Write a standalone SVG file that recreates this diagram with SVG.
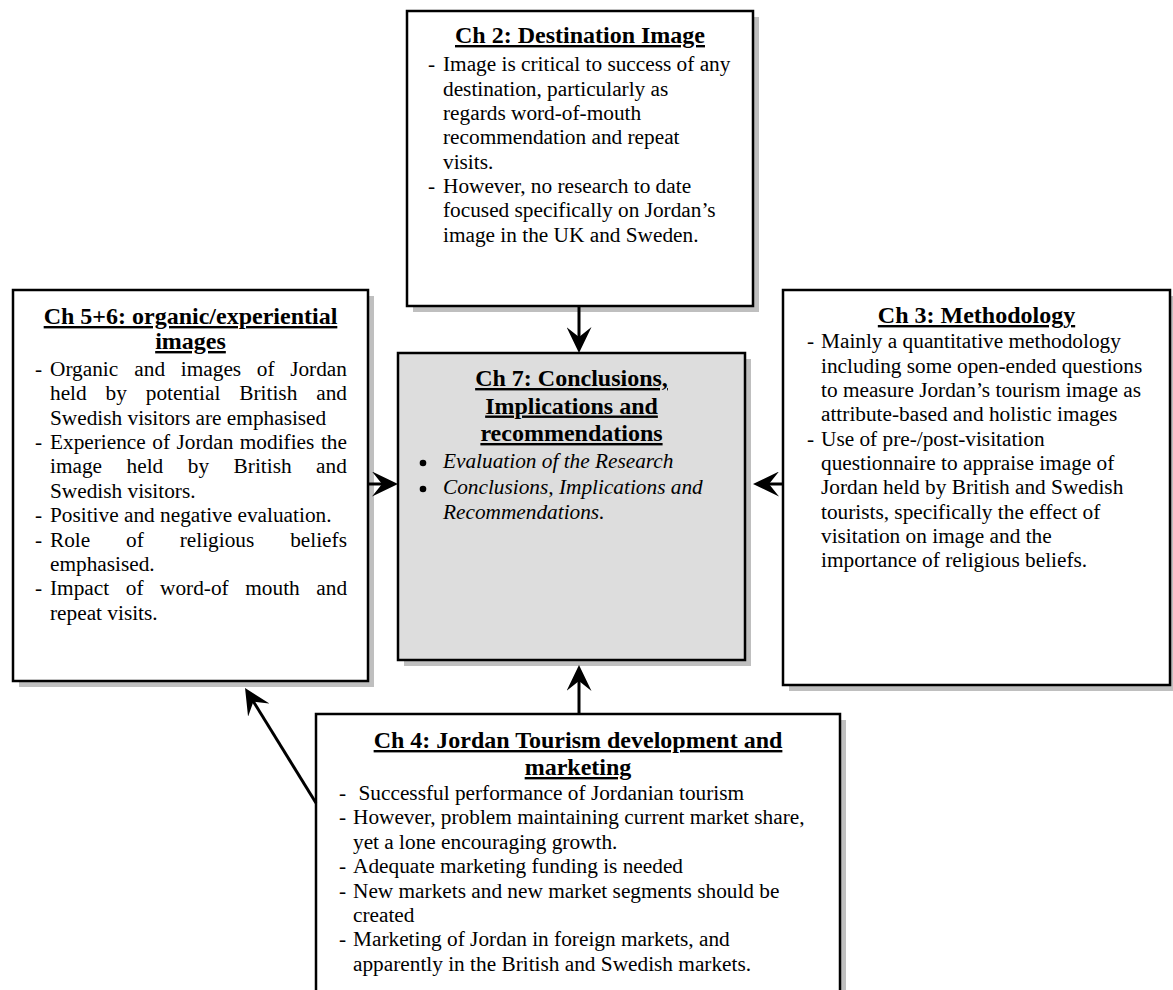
<svg xmlns="http://www.w3.org/2000/svg" width="1173" height="990" viewBox="0 0 1173 990">
  <style>
    text { font-family: "Liberation Serif", "Times New Roman", serif; fill: #000; }
    .h { font-size: 24px; font-weight: bold; text-anchor: middle; text-decoration: underline; }
    .b { font-size: 21.3px; }
    .i { font-size: 21.3px; font-style: italic; }
    .box { fill: #fff; stroke: #000; stroke-width: 2.5; }
    .core { fill: #dddddd; stroke: #000; stroke-width: 2.5; }
    .shadow { fill: #bfbfbf; }
    .link { stroke: #000; stroke-width: 3; fill: none; marker-end: url(#head); }
  </style>
  <defs>
    <marker id="head" viewBox="0 0 26 25" refX="16" refY="12.5" markerWidth="26" markerHeight="25" markerUnits="userSpaceOnUse" orient="auto">
      <path d="M26,12.5 L0,0 L10,12.5 L0,25 Z" fill="#000"/>
    </marker>
  </defs>
  <rect width="1173" height="990" fill="#fff"/>

  <!-- Ch 2: Destination Image -->
  <g id="node-ch2">
    <rect class="shadow" x="413" y="17" width="346" height="295"/>
    <rect class="box" x="407" y="11" width="346" height="295"/>
    <text class="h" x="580" y="43">Ch 2: Destination Image</text>
    <text class="b">
      <tspan x="428" y="71">-</tspan><tspan x="443" y="71">Image is critical to success of any</tspan>
      <tspan x="443" y="95.5">destination, particularly as</tspan>
      <tspan x="443" y="120">regards word-of-mouth</tspan>
      <tspan x="443" y="144">recommendation and repeat</tspan>
      <tspan x="443" y="168.5">visits.</tspan>
      <tspan x="428" y="193">-</tspan><tspan x="443" y="193">However, no research to date</tspan>
      <tspan x="443" y="217">focused specifically on Jordan’s</tspan>
      <tspan x="443" y="241.5">image in the UK and Sweden.</tspan>
    </text>
  </g>

  <!-- Ch 5+6: organic/experiential images -->
  <g id="node-ch56">
    <rect class="shadow" x="19" y="296" width="355" height="391"/>
    <rect class="box" x="13" y="290" width="355" height="391"/>
    <text class="h" x="190.5" y="324">Ch 5+6: organic/experiential</text>
    <text class="h" x="190.5" y="349">images</text>
    <text class="b">
      <tspan x="35" y="376">-</tspan><tspan x="50" y="376">Organic</tspan><tspan x="134.3" y="376">and</tspan><tspan x="180.8" y="376">images</tspan><tspan x="256.8" y="376">of</tspan><tspan x="290.2" y="376">Jordan</tspan>
      <tspan x="50" y="400.4">held</tspan><tspan x="105.6" y="400.4">by</tspan><tspan x="145.8" y="400.4">potential</tspan><tspan x="239.3" y="400.4">British</tspan><tspan x="316.2" y="400.4">and</tspan>
      <tspan x="50" y="424.7">Swedish visitors are emphasised</tspan>
      <tspan x="35" y="449.1">-</tspan><tspan x="50" y="449.1">Experience</tspan><tspan x="152.3" y="449.1">of</tspan><tspan x="176.5" y="449.1">Jordan</tspan><tspan x="239.8" y="449.1">modifies</tspan><tspan x="320.9" y="449.1">the</tspan>
      <tspan x="50" y="473.4">image</tspan><tspan x="126.6" y="473.4">held</tspan><tspan x="187.8" y="473.4">by</tspan><tspan x="233.6" y="473.4">British</tspan><tspan x="316.1" y="473.4">and</tspan>
      <tspan x="50" y="497.8">Swedish visitors.</tspan>
      <tspan x="35" y="522.1">-</tspan><tspan x="50" y="522.1">Positive and negative evaluation.</tspan>
      <tspan x="35" y="546.5">-</tspan><tspan x="50" y="546.5">Role</tspan><tspan x="126.1" y="546.5">of</tspan><tspan x="179.7" y="546.5">religious</tspan><tspan x="290.2" y="546.5">beliefs</tspan>
      <tspan x="50" y="570.8">emphasised.</tspan>
      <tspan x="35" y="595.2">-</tspan><tspan x="50" y="595.2">Impact</tspan><tspan x="125.8" y="595.2">of</tspan><tspan x="160.1" y="595.2">word-of</tspan><tspan x="245.3" y="595.2">mouth</tspan><tspan x="316.3" y="595.2">and</tspan>
      <tspan x="50" y="619.5">repeat visits.</tspan>
    </text>
  </g>

  <!-- Ch 7: Conclusions, Implications and recommendations -->
  <g id="node-ch7">
    <rect class="shadow" x="404" y="359" width="347" height="307"/>
    <rect class="core" x="398" y="353" width="347" height="307"/>
    <text class="h" x="571.5" y="386">Ch 7: Conclusions,</text>
    <text class="h" x="571.5" y="413.5">Implications and</text>
    <text class="h" x="571.5" y="441">recommendations</text>
    <circle cx="423" cy="463" r="3.3" fill="#000"/>
    <circle cx="423" cy="489" r="3.3" fill="#000"/>
    <text class="i">
      <tspan x="443" y="468">Evaluation of the Research</tspan>
      <tspan x="443" y="494">Conclusions, Implications and</tspan>
      <tspan x="443" y="519">Recommendations.</tspan>
    </text>
  </g>

  <!-- Ch 3: Methodology -->
  <g id="node-ch3">
    <rect class="shadow" x="789" y="296" width="387" height="395"/>
    <rect class="box" x="783" y="290" width="387" height="395"/>
    <text class="h" x="976.5" y="323">Ch 3: Methodology</text>
    <text class="b">
      <tspan x="807" y="348">-</tspan><tspan x="821" y="348">Mainly a quantitative methodology</tspan>
      <tspan x="821" y="372.5">including some open-ended questions</tspan>
      <tspan x="821" y="397">to measure Jordan’s tourism image as</tspan>
      <tspan x="821" y="421">attribute-based and holistic images</tspan>
      <tspan x="807" y="445.5">-</tspan><tspan x="821" y="445.5">Use of pre-/post-visitation</tspan>
      <tspan x="821" y="470">questionnaire to appraise image of</tspan>
      <tspan x="821" y="494">Jordan held by British and Swedish</tspan>
      <tspan x="821" y="518.5">tourists, specifically the effect of</tspan>
      <tspan x="821" y="543">visitation on image and the</tspan>
      <tspan x="821" y="567">importance of religious beliefs.</tspan>
    </text>
  </g>

  <!-- Ch 4: Jordan Tourism development and marketing -->
  <g id="node-ch4">
    <rect class="shadow" x="322" y="720" width="524" height="290"/>
    <rect class="box" x="316" y="714" width="524" height="290"/>
    <text class="h" x="578" y="748">Ch 4: Jordan Tourism development and</text>
    <text class="h" x="578" y="775">marketing</text>
    <text class="b">
      <tspan x="339" y="800">-</tspan><tspan x="358.5" y="800">Successful performance of Jordanian tourism</tspan>
      <tspan x="339" y="824.4">-</tspan><tspan x="353" y="824.4">However, problem maintaining current market share,</tspan>
      <tspan x="353" y="848.8">yet a lone encouraging growth.</tspan>
      <tspan x="339" y="873.2">-</tspan><tspan x="353" y="873.2">Adequate marketing funding is needed</tspan>
      <tspan x="339" y="897.6">-</tspan><tspan x="353" y="897.6">New markets and new market segments should be</tspan>
      <tspan x="353" y="922">created</tspan>
      <tspan x="339" y="946.4">-</tspan><tspan x="353" y="946.4">Marketing of Jordan in foreign markets, and</tspan>
      <tspan x="353" y="970.8">apparently in the British and Swedish markets.</tspan>
    </text>
  </g>

  <!-- connectors: each line stops 10px short of its arrow tip -->
  <g id="connectors">
    <line class="link" x1="579" y1="307" x2="579" y2="343"/>
    <line class="link" x1="368" y1="484" x2="388" y2="484"/>
    <line class="link" x1="783" y1="484" x2="763" y2="484"/>
    <line class="link" x1="579" y1="713" x2="579" y2="675"/>
    <line class="link" x1="316" y1="803" x2="250.3" y2="696.5"/>
  </g>
</svg>
